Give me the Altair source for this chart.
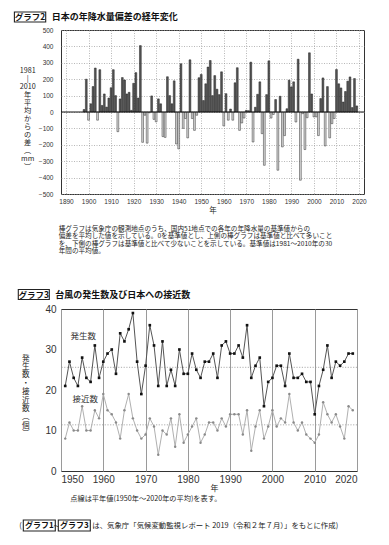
import altair as alt
import pandas as pd

FONT_JP = "Noto Sans CJK JP"
FONT_NUM = "Liberation Sans"

# ---------------- Graph 2 data: annual precipitation anomaly (mm) ----------------
rain_years = list(range(1898, 2020))
rain_anom = [
    15, 200,                                                  # 1898-1899
    -50, 50, 155, 268, -50, 258, 40, 110, 30, 85,             # 1900-1909
    148, 258, 100, -120, 80, 210, 195, 110, 120, 10,          # 1910-1919
    175, 240, 85, 405, -185, -20, -190, -5, 98, -45,          # 1920-1929
    -60, 80, 50, -150, -155, 215, 100, 50, 190, -195,         # 1930-1939
    -225, 294, -100, -40, -158, 318, -40, -112, -20, 209,     # 1940-1949
    229, 70, 172, 274, 314, 100, 222, 139, 106, 245,          # 1950-1959
    -85, 112, -50, 18, -50, 178, 270, -112, -67, -37,         # 1960-1969
    10, 8, 304, -183, 29, 108, 184, -132, -325, 106,          # 1970-1979
    312, -37, -15, 76, -355, 96, -213, -144, 20, 194,         # 1980-1989
    153, 184, -61, 322, -416, -10, -229, -35, 361, 110,       # 1990-1999
    -30, -30, -144, 82, 208, -207, 155, -158, -71, -40,       # 2000-2009
    259, 172, 147, 61, 125, 188, 214, 27, 204, 37,            # 2010-2019
]
rain_x_ticks = list(range(1890, 2021, 10))
rain_y_ticks = list(range(-500, 501, 100))

# ---------------- Graph 3 data: typhoons ----------------
ty_years = list(range(1951, 2020))
ty_formed = [
    21, 27, 23, 21, 28, 23, 22, 31, 23, 27,
    29, 30, 24, 34, 32, 35, 39, 27, 19, 26,
    36, 31, 21, 32, 21, 25, 21, 30, 24, 24,
    29, 25, 23, 27, 27, 29, 23, 31, 32, 29,
    29, 31, 28, 36, 23, 26, 28, 16, 22, 23,
    26, 26, 21, 29, 23, 23, 24, 22, 22, 14,
    21, 25, 31, 23, 27, 26, 27, 29, 29,
]
ty_approach = [
    8, 12, 10, 10, 16, 10, 10, 15, 13, 19,
    15, 14, 12, 8, 15, 19, 13, 10, 8, 9,
    13, 11, 4, 10, 9, 13, 6, 14, 7, 9,
    11, 13, 7, 9, 12, 12, 10, 13, 11, 14,
    14, 14, 9, 15, 5, 11, 15, 8, 11, 15,
    11, 13, 12, 19, 12, 10, 12, 9, 8, 7,
    9, 17, 14, 12, 14, 11, 8, 16, 15,
]
ty_normals = [25.6, 11.4]
ty_x_ticks = list(range(1950, 2021, 10))
ty_y_ticks = list(range(0, 41, 10))

# ---------------- texts ----------------
title2_box = "グラフ2"
title2 = "日本の年降水量偏差の経年変化"
ytitle2 = ["1981", "|", "2010", "年", "平", "均", "か", "ら", "の", "差", "︵", "mm", "︶"]
caption2 = [
    "　棒グラフは気象庁の観測地点のうち、国内51地点での各年の年降水量の基準値からの",
    "偏差を平均した値を示している。0を基準値とし、上側の棒グラフは基準値と比べて多いこと",
    "を、下側の棒グラフは基準値と比べて少ないことを示している。基準値は1981～2010年の30",
    "年間の平均値。",
]
title3_box = "グラフ3"
title3 = "台風の発生数及び日本への接近数"
ytitle3 = ["発", "生", "数", "・", "接", "近", "数", "︵", "個", "︶"]
label_formed = "発生数"
label_approach = "接近数"
caption3 = "点線は平年値(1950年～2020年の平均)を表す。"
source_box1 = "グラフ1"
source_box3 = "グラフ3"
source_text = "は、気象庁「気候変動監視レポート 2019（令和２年７月）」をもとに作成)"

one = pd.DataFrame({"k": [0]})


def txt(text, x, y, size=7.0, weight="normal", align="left", font=FONT_JP,
        color="#222", baseline="middle", line_height=None):
    kw = dict(align=align, baseline=baseline, fontSize=size, fontWeight=weight,
              font=font, color=color)
    if line_height is not None:
        kw["lineHeight"] = line_height
    return alt.Chart(one).mark_text(**kw).encode(
        x=alt.value(x), y=alt.value(y), text=alt.value(text))


def box(x, x2, y, y2):
    return alt.Chart(one).mark_rect(
        fill="white", stroke="#222", strokeWidth=1.1
    ).encode(x=alt.value(x), x2=alt.value(x2), y=alt.value(y), y2=alt.value(y2))


# ================= Chart 1 =================
rain_df = pd.DataFrame({"year": rain_years, "anom": rain_anom})
rain_df["sign"] = ["pos" if v >= 0 else "neg" for v in rain_anom]

W1, H1 = 303, 164
x1 = alt.X(
    "year:Q",
    scale=alt.Scale(domain=[1890, 2020], nice=False, zero=False),
    axis=alt.Axis(
        values=rain_x_ticks, format="d", title="年", titleFontSize=7.5,
        titleFontWeight="normal", titleY=16, titleBaseline="middle",
        labelFontSize=6.5, labelPadding=4, labelOverlap=False, grid=True,
        gridDash=[1, 1.5], gridColor="#999", gridWidth=0.7,
    ),
)


def y1(field):
    return alt.Y(
        f"{field}:Q",
        scale=alt.Scale(domain=[-500, 500], nice=False),
        axis=alt.Axis(
            values=rain_y_ticks, title=ytitle2, titleAngle=0, titleAlign="center",
            titleBaseline="top", titleX=-33.8, titleY=36, titleFontSize=7.2,
            titleLineHeight=8.0, titleFontWeight="normal",
            labelFontSize=6.5, labelPadding=8, labelOverlap=False, grid=True,
            gridDash=[1, 1.5], gridColor="#999", gridWidth=0.7,
        ),
    )


bars = alt.Chart(rain_df).mark_bar(size=1.8, strokeWidth=0.5).encode(
    x=x1,
    y=y1("anom"),
    y2=alt.datum(0),
    fill=alt.Fill("sign:N", scale=alt.Scale(domain=["pos", "neg"], range=["#555555", "#d6d6d6"]), legend=None),
    stroke=alt.Stroke("sign:N", scale=alt.Scale(domain=["pos", "neg"], range=["#222222", "#333333"]), legend=None),
)
zero = alt.Chart(pd.DataFrame({"anom": [0]})).mark_rule(color="#111", strokeWidth=1).encode(y=y1("anom"))

chart1_layers = [
    bars, zero,
    box(-46.6, -15.3, -18, -8),
    txt(title2_box, -30.9, -13, size=8.5, weight="bold", align="center", color="#111"),
    txt(title2, -9.3, -13, size=9, weight="bold", color="#111"),
    txt(caption2, -2.3, 195.8, size=6.6, baseline="top", line_height=7.4),
]

chart1 = alt.layer(*chart1_layers).properties(width=W1, height=H1)

# ================= Chart 2 =================
ty_df = pd.DataFrame({"year": ty_years, "formed": ty_formed, "approach": ty_approach})
W2, H2 = 296, 162
x2 = alt.X(
    "year:Q",
    scale=alt.Scale(domain=[1950, 2020], nice=False, zero=False),
    axis=alt.Axis(
        values=ty_x_ticks, format="d", title="年", titleFontSize=8,
        titleFontWeight="normal", titleY=17, titleX=153, titleBaseline="middle",
        labelFontSize=10, labelPadding=3, labelOverlap=False, grid=True,
        gridColor="#9a9a9a", gridWidth=1,
    ),
)


def y2(field):
    return alt.Y(
        f"{field}:Q",
        scale=alt.Scale(domain=[0, 40], nice=False),
        axis=alt.Axis(
            values=ty_y_ticks, title=ytitle3, titleAngle=0, titleAlign="center",
            titleBaseline="top", titleX=-35.7, titleY=45, titleFontSize=7.6,
            titleLineHeight=8.4, titleFontWeight="normal",
            labelFontSize=10, labelPadding=5, labelOverlap=False, grid=False,
        ),
    )


formed_line = alt.Chart(ty_df).mark_line(color="#555", strokeWidth=1).encode(x=x2, y=y2("formed"))
formed_pts = alt.Chart(ty_df).mark_square(size=7, color="#111", opacity=1).encode(x=x2, y=y2("formed"))
approach_line = alt.Chart(ty_df).mark_line(color="#b0b0b0", strokeWidth=1).encode(x=x2, y=y2("approach"))
approach_pts = alt.Chart(ty_df).mark_circle(size=6, color="#8a8a8a", opacity=1).encode(x=x2, y=y2("approach"))
normals = alt.Chart(pd.DataFrame({"formed": ty_normals})).mark_rule(
    color="#999", strokeWidth=0.8, strokeDash=[1.2, 1.5]).encode(y=y2("formed"))

chart2_layers = [
    normals, approach_line, approach_pts, formed_line, formed_pts,
    txt(label_formed, 22.3, 27, size=8.5, align="center", color="#333"),
    txt(label_approach, 24.3, 90, size=8.5, align="center", color="#333"),
    box(-42.7, -11.7, -19.5, -9.5),
    txt(title3_box, -27.2, -14.5, size=8.5, weight="bold", align="center", color="#111"),
    txt(title3, -5.7, -14.5, size=9, weight="bold", color="#111"),
    txt(caption3, 9.3, 190, size=7.2),
    txt("(", -41.7, 216.7, size=7.5),
    box(-37.7, -5.7, 211, 222),
    txt(source_box1, -21.7, 216.7, size=8, weight="bold", align="center", color="#111"),
    txt("～", -4.4, 216.7, size=6, align="center"),
    box(-2.7, 29.3, 211, 222),
    txt(source_box3, 13.3, 216.7, size=8, weight="bold", align="center", color="#111"),
    txt(source_text, 31.3, 216.7, size=7.4),
]
chart2 = alt.layer(*chart2_layers).properties(width=W2, height=H2)

chart = alt.vconcat(chart1, chart2, spacing=32).properties(
    padding={"left": 5, "top": 2, "right": 0, "bottom": 0}
).configure_view(
    stroke="#333", strokeWidth=1
).configure_axis(
    labelFont=FONT_NUM, titleFont=FONT_JP, domain=False, ticks=False,
    labelColor="#333", titleColor="#222",
).configure_concat(spacing=32)

chart.save("out.html", embed_options={"renderer": "svg", "actions": False})
